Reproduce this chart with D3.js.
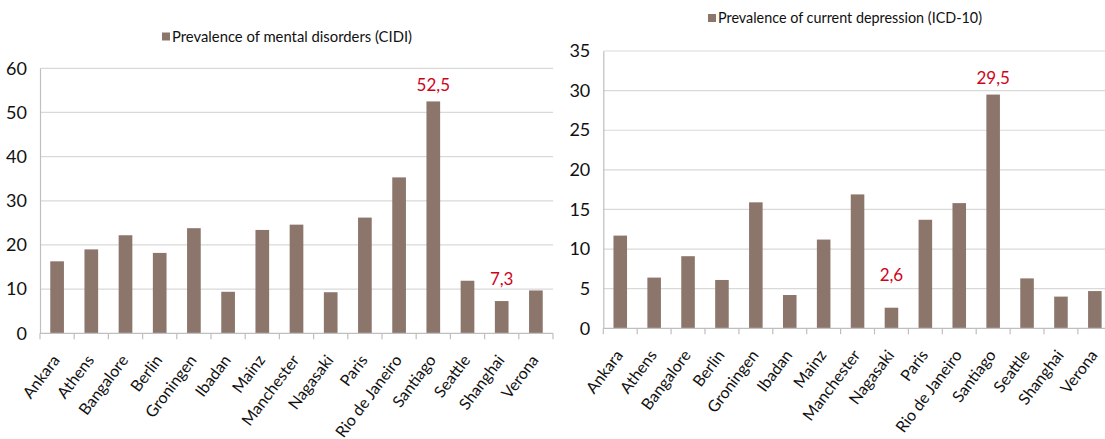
<!DOCTYPE html>
<html>
<head>
<meta charset="utf-8">
<script src="https://cdn.jsdelivr.net/npm/d3@7"></script>
<style>
  body { margin: 0; background: #fff; }
  svg { display: block; font-family: Lato, "Open Sans", sans-serif; }
</style>
</head>
<body>
<div id="chart"></div>
<script>
// categories
var cities = ['Ankara', 'Athens', 'Bangalore', 'Berlin', 'Groningen', 'Ibadan', 'Mainz',
  'Manchester', 'Nagasaki', 'Paris', 'Rio de Janeiro', 'Santiago', 'Seattle', 'Shanghai', 'Verona'];

// series values
var mentalDisorders = [16.3, 19.0, 22.2, 18.2, 23.8, 9.4, 23.4, 24.6, 9.3, 26.2, 35.3, 52.5, 11.9, 7.3, 9.7];
var currentDepression = [11.7, 6.4, 9.1, 6.1, 15.9, 4.2, 11.2, 16.9, 2.6, 13.7, 15.8, 29.5, 6.3, 4.0, 4.7];

// tick labels
var mentalTicks = [0, 10, 20, 30, 40, 50, 60];
var depressionTicks = [0, 5, 10, 15, 20, 25, 30, 35];

// legend titles
var mentalTitle = 'Prevalence of mental disorders (CIDI)';
var depressionTitle = 'Prevalence of current depression (ICD-10)';

// highlighted values (shown in red)
var mentalHighlights = ['Santiago', 'Shanghai'];
var depressionHighlights = ['Santiago', 'Nagasaki'];

var svgWidth = 1105;
var svgHeight = 439;
var barColor = '#8c766c';
var gridColor = '#d9d9d9';
var axisColor = '#bfbfbf';

var svg = d3.select('#chart')
  .append('svg')
  .attr('width', svgWidth)
  .attr('height', svgHeight);

function fmt(v) {
  return String(v).replace('.', ',');
}

function drawChart(opts) {
  var g = svg.append('g');

  var x = d3.scaleBand()
    .domain(cities)
    .range([opts.left, opts.right])
    .paddingInner(0.6)
    .paddingOuter(0.3);

  var y = d3.scaleLinear()
    .domain([0, d3.max(opts.ticks)])
    .range([opts.bottom, opts.top]);

  // gridlines
  g.append('g')
    .selectAll('line')
    .data(opts.ticks.filter(function (t) { return t > 0; }))
    .enter()
    .append('line')
    .attr('x1', opts.left)
    .attr('x2', opts.gridEnd)
    .attr('y1', function (d) { return y(d); })
    .attr('y2', function (d) { return y(d); })
    .attr('stroke', gridColor)
    .attr('stroke-width', 1.2);

  // y axis
  var leftAxis = d3.axisLeft(y)
    .tickValues(opts.ticks)
    .tickSize(0)
    .tickPadding(13)
    .tickFormat(d3.format('d'));

  var yAxis = g.append('g')
    .attr('transform', 'translate(' + opts.left + ',0)')
    .call(leftAxis);
  yAxis.select('.domain')
    .attr('stroke', axisColor)
    .attr('stroke-width', 1.2);
  yAxis.selectAll('text')
    .attr('fill', '#111')
    .style('font-size', '18px')
    .style('font-family', 'Lato, sans-serif');

  // bars
  g.append('g')
    .selectAll('rect')
    .data(opts.values)
    .enter()
    .append('rect')
    .attr('x', function (d, i) { return x(cities[i]); })
    .attr('y', function (d) { return y(d); })
    .attr('width', x.bandwidth())
    .attr('height', function (d) { return y(0) - y(d); })
    .attr('fill', barColor);

  // x axis
  var bottomAxis = d3.axisBottom(x).tickSize(0).tickFormat('');
  var xAxis = g.append('g')
    .attr('transform', 'translate(0,' + opts.bottom + ')')
    .call(bottomAxis);
  xAxis.select('.domain').remove();
  xAxis.append('line')
    .attr('x1', opts.left)
    .attr('x2', opts.gridEnd)
    .attr('stroke', axisColor)
    .attr('stroke-width', 1.2);

  // category ticks between bands
  var step = x.step();
  xAxis.selectAll('.sep')
    .data(d3.range(cities.length + 1))
    .enter()
    .append('line')
    .attr('class', 'sep')
    .attr('x1', function (i) { return opts.left + i * step; })
    .attr('x2', function (i) { return opts.left + i * step; })
    .attr('y1', 0)
    .attr('y2', 6)
    .attr('stroke', axisColor)
    .attr('stroke-width', 1.2);

  // rotated category labels
  g.append('g')
    .selectAll('text')
    .data(cities)
    .enter()
    .append('text')
    .attr('transform', function (d) {
      var cx = x(d) + x.bandwidth() / 2 + 3.5;
      return 'translate(' + cx + ',' + (opts.bottom + 27) + ') rotate(-53)';
    })
    .attr('text-anchor', 'end')
    .attr('fill', '#111')
    .style('font-size', '16px')
    .text(function (d) { return d; });

  // legend
  var legend = g.append('g');
  legend.append('rect')
    .attr('x', opts.legendX)
    .attr('y', opts.legendY - 9)
    .attr('width', 8)
    .attr('height', 8)
    .attr('fill', barColor);
  legend.append('text')
    .attr('x', opts.legendX + 10)
    .attr('y', opts.legendY)
    .attr('fill', '#111')
    .attr('textLength', opts.legendWidth)
    .attr('lengthAdjust', 'spacingAndGlyphs')
    .style('font-size', '16px')
    .text(opts.title);

  // red value labels
  g.append('g')
    .selectAll('text')
    .data(opts.highlights)
    .enter()
    .append('text')
    .attr('x', function (d) { return x(d) + x.bandwidth() / 2; })
    .attr('y', function (d, i) {
      return y(opts.values[cities.indexOf(d)]) - opts.labelGap[i];
    })
    .attr('text-anchor', 'middle')
    .attr('fill', '#d0021b')
    .style('font-size', '17px')
    .text(function (d) { return fmt(opts.values[cities.indexOf(d)]); });
}

drawChart({
  values: mentalDisorders,
  ticks: mentalTicks,
  title: mentalTitle,
  highlights: mentalHighlights,
  labelGap: [10, 16],
  left: 40,
  right: 553,
  gridEnd: 553,
  top: 68.3,
  bottom: 333.3,
  legendX: 162,
  legendY: 41.5,
  legendWidth: 240
});

drawChart({
  values: currentDepression,
  ticks: depressionTicks,
  title: depressionTitle,
  highlights: depressionHighlights,
  labelGap: [11, 27],
  left: 603.3,
  right: 1111.8,
  gridEnd: 1105,
  top: 51,
  bottom: 328.3,
  legendX: 708,
  legendY: 23,
  legendWidth: 264
});
</script>
</body>
</html>
